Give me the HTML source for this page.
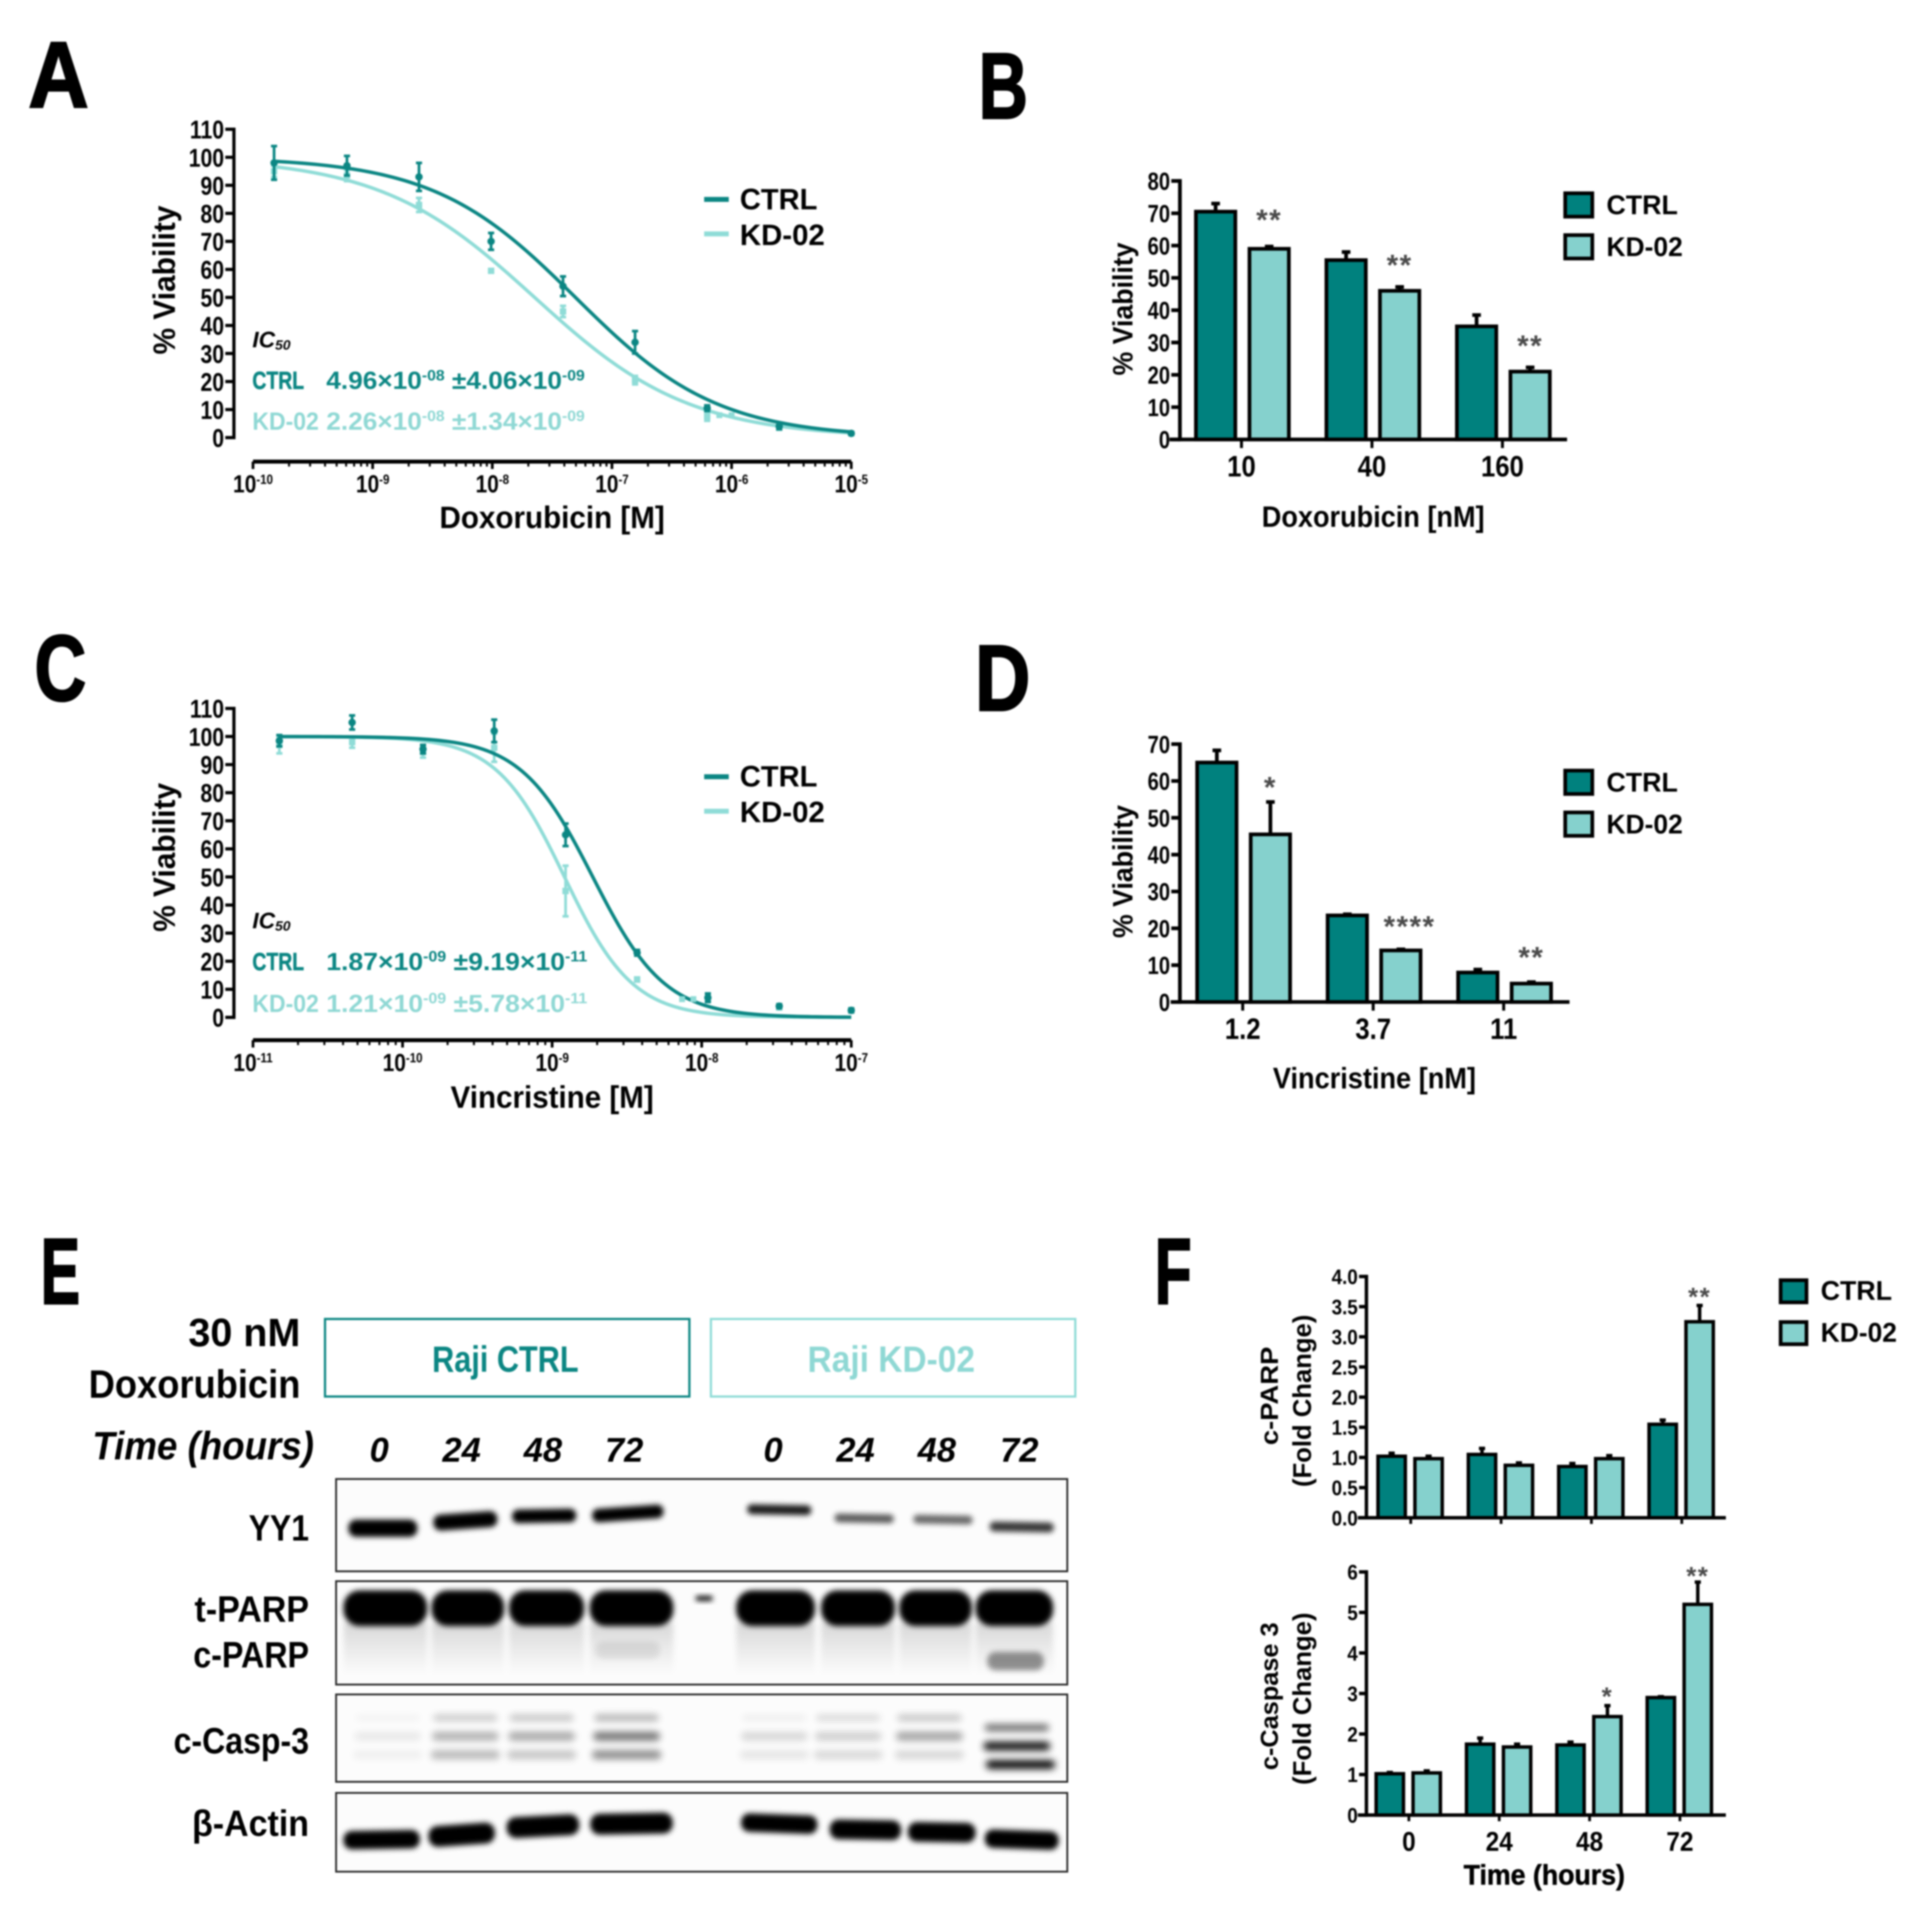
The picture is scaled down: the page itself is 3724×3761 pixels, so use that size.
<!DOCTYPE html>
<html lang="en">
<head>
<meta charset="utf-8">
<title>Doxorubicin and vincristine viability figure</title>
<style>
html,body{margin:0;padding:0;background:#fff;width:3724px;height:3761px;overflow:hidden}
svg{display:block;filter:blur(1.6px)}
text{font-family:"Liberation Sans",sans-serif;font-weight:bold;fill:#000}
.teal{fill:#0b8683}
.mint{fill:#8fd8d4}
.letter{stroke:#000;stroke-width:1.6}
.swA{fill:#00817e;stroke:#000;stroke-width:3}
.swB{fill:#85d1cd;stroke:#000;stroke-width:3}
</style>
</head>
<body>
<svg id="figure" xmlns="http://www.w3.org/2000/svg" width="3724" height="3761" viewBox="0 0 1554 1569.5">
<defs>
<filter id="bandBlur" x="-30%" y="-80%" width="160%" height="260%"><feGaussianBlur stdDeviation="2.2"/></filter>
<filter id="softBlur" x="-30%" y="-150%" width="160%" height="400%"><feGaussianBlur stdDeviation="3"/></filter>
<linearGradient id="smear" x1="0" y1="0" x2="0" y2="1"><stop offset="0" stop-color="#000" stop-opacity=".14"/><stop offset="1" stop-color="#000" stop-opacity="0"/></linearGradient>
</defs>
<rect width="1554" height="1569.5" fill="#fff"/>

<!-- panel letters -->
<text class="letter" x="23" y="87" font-size="76" textLength="49" lengthAdjust="spacingAndGlyphs">A</text>
<text class="letter" x="795" y="96" font-size="76" textLength="40" lengthAdjust="spacingAndGlyphs">B</text>
<text class="letter" x="28" y="569" font-size="76" textLength="42" lengthAdjust="spacingAndGlyphs">C</text>
<text class="letter" x="792" y="577" font-size="76" textLength="45" lengthAdjust="spacingAndGlyphs">D</text>
<text class="letter" x="33" y="1059" font-size="76" textLength="32" lengthAdjust="spacingAndGlyphs">E</text>
<text class="letter" x="938" y="1059" font-size="76" textLength="30" lengthAdjust="spacingAndGlyphs">F</text>

<!-- panel A static text -->
<g id="panelA">
<text transform="translate(142,288) rotate(-90)" font-size="25" textLength="121" lengthAdjust="spacingAndGlyphs">% Viability</text>
<text x="357" y="429" font-size="25" textLength="183" lengthAdjust="spacingAndGlyphs">Doxorubicin [M]</text>
<g>
<line x1="572" x2="592" y1="162" y2="162" stroke="#0b8683" stroke-width="4"/>
<text x="601" y="170" font-size="24" textLength="63" lengthAdjust="spacingAndGlyphs">CTRL</text>
<line x1="572" x2="592" y1="190" y2="190" stroke="#8fdcd7" stroke-width="4"/>
<text x="601" y="199" font-size="24" textLength="69" lengthAdjust="spacingAndGlyphs">KD-02</text>
</g>
<text x="205" y="282" font-size="18" font-style="italic" font-weight="normal" textLength="31" lengthAdjust="spacingAndGlyphs">IC<tspan font-size="11" dy="2">50</tspan></text>
<text class="teal" x="205" y="316" font-size="20" font-weight="normal" stroke="#0b8683" stroke-width=".4" textLength="42" lengthAdjust="spacingAndGlyphs">CTRL</text>
<text class="teal" x="265" y="316" font-size="20" textLength="210" lengthAdjust="spacingAndGlyphs">4.96×10<tspan font-size="12" dy="-7">-08</tspan><tspan dy="7"> ±4.06×10</tspan><tspan font-size="12" dy="-7">-09</tspan></text>
<text class="mint" x="205" y="349" font-size="20" textLength="54" lengthAdjust="spacingAndGlyphs">KD-02</text>
<text class="mint" x="265" y="349" font-size="20" textLength="210" lengthAdjust="spacingAndGlyphs">2.26×10<tspan font-size="12" dy="-7">-08</tspan><tspan dy="7"> ±1.34×10</tspan><tspan font-size="12" dy="-7">-09</tspan></text>
</g>

<!-- panel C static text -->
<g id="panelC">
<text transform="translate(142,757) rotate(-90)" font-size="25" textLength="121" lengthAdjust="spacingAndGlyphs">% Viability</text>
<text x="366" y="900" font-size="25" textLength="165" lengthAdjust="spacingAndGlyphs">Vincristine [M]</text>
<g>
<line x1="572" x2="592" y1="631" y2="631" stroke="#0b8683" stroke-width="4"/>
<text x="601" y="639" font-size="24" textLength="63" lengthAdjust="spacingAndGlyphs">CTRL</text>
<line x1="572" x2="592" y1="659" y2="659" stroke="#8fdcd7" stroke-width="4"/>
<text x="601" y="668" font-size="24" textLength="69" lengthAdjust="spacingAndGlyphs">KD-02</text>
</g>
<text x="205" y="754" font-size="18" font-style="italic" font-weight="normal" textLength="31" lengthAdjust="spacingAndGlyphs">IC<tspan font-size="11" dy="2">50</tspan></text>
<text class="teal" x="205" y="788" font-size="20" font-weight="normal" stroke="#0b8683" stroke-width=".4" textLength="42" lengthAdjust="spacingAndGlyphs">CTRL</text>
<text class="teal" x="265" y="788" font-size="20" textLength="212" lengthAdjust="spacingAndGlyphs">1.87×10<tspan font-size="12" dy="-7">-09</tspan><tspan dy="7"> ±9.19×10</tspan><tspan font-size="12" dy="-7">-11</tspan></text>
<text class="mint" x="205" y="822" font-size="20" textLength="54" lengthAdjust="spacingAndGlyphs">KD-02</text>
<text class="mint" x="265" y="822" font-size="20" textLength="212" lengthAdjust="spacingAndGlyphs">1.21×10<tspan font-size="12" dy="-7">-09</tspan><tspan dy="7"> ±5.78×10</tspan><tspan font-size="12" dy="-7">-11</tspan></text>
</g>

<!-- panel B static text -->
<g id="panelB">
<text transform="translate(920,305) rotate(-90)" font-size="23" textLength="108" lengthAdjust="spacingAndGlyphs">% Viability</text>
<text x="1025" y="428" font-size="24" textLength="181" lengthAdjust="spacingAndGlyphs">Doxorubicin [nM]</text>
<g>
<rect class="swA" x="1271.5" y="157" width="22" height="19"/>
<text x="1305" y="174" font-size="22" textLength="58" lengthAdjust="spacingAndGlyphs">CTRL</text>
<rect class="swB" x="1271.5" y="191" width="22" height="19"/>
<text x="1305" y="208" font-size="22" textLength="62" lengthAdjust="spacingAndGlyphs">KD-02</text>
</g>
</g>

<!-- panel D static text -->
<g id="panelD">
<text transform="translate(920,762) rotate(-90)" font-size="23" textLength="108" lengthAdjust="spacingAndGlyphs">% Viability</text>
<text x="1034" y="884" font-size="24" textLength="165" lengthAdjust="spacingAndGlyphs">Vincristine [nM]</text>
<g>
<rect class="swA" x="1271.5" y="626" width="22" height="19"/>
<text x="1305" y="643" font-size="22" textLength="58" lengthAdjust="spacingAndGlyphs">CTRL</text>
<rect class="swB" x="1271.5" y="660" width="22" height="19"/>
<text x="1305" y="677" font-size="22" textLength="62" lengthAdjust="spacingAndGlyphs">KD-02</text>
</g>
</g>

<!-- panel F static text -->
<g id="panelF" transform="translate(0,1)">
<text transform="translate(1038,1173) rotate(-90)" font-size="20" textLength="80" lengthAdjust="spacingAndGlyphs">c-PARP</text>
<text transform="translate(1065,1207) rotate(-90)" font-size="21" textLength="140" lengthAdjust="spacingAndGlyphs">(Fold Change)</text>
<text transform="translate(1038,1437) rotate(-90)" font-size="20" textLength="120" lengthAdjust="spacingAndGlyphs">c-Caspase 3</text>
<text transform="translate(1065,1449) rotate(-90)" font-size="21" textLength="140" lengthAdjust="spacingAndGlyphs">(Fold Change)</text>
<text x="1189" y="1530" font-size="23" font-weight="normal" stroke="#000" stroke-width=".4" textLength="131" lengthAdjust="spacingAndGlyphs">Time (hours)</text>
<g>
<rect class="swA" x="1446.5" y="1039" width="21" height="18"/>
<text x="1479" y="1055" font-size="22" textLength="58" lengthAdjust="spacingAndGlyphs">CTRL</text>
<rect class="swB" x="1446.5" y="1073" width="21" height="18"/>
<text x="1479" y="1089" font-size="22" textLength="62" lengthAdjust="spacingAndGlyphs">KD-02</text>
</g>
</g>

<!-- panel E static parts -->
<g id="panelE" transform="translate(0,1.5)">
<text x="153" y="1092" font-size="32" textLength="91" lengthAdjust="spacingAndGlyphs">30 nM</text>
<text x="72" y="1134" font-size="32" textLength="172" lengthAdjust="spacingAndGlyphs">Doxorubicin</text>
<rect x="264" y="1070" width="296" height="63" fill="#fff" stroke="#0b8683" stroke-width="1.8"/>
<text class="teal" x="351" y="1113" font-size="30" textLength="119" lengthAdjust="spacingAndGlyphs">Raji CTRL</text>
<rect x="577.5" y="1070" width="296" height="63" fill="#fff" stroke="#8fdcd7" stroke-width="1.8"/>
<text class="mint" x="656" y="1113" font-size="30" textLength="136" lengthAdjust="spacingAndGlyphs">Raji KD-02</text>
<text x="75" y="1184" font-size="32" font-style="italic" textLength="180" lengthAdjust="spacingAndGlyphs">Time (hours)</text>
<text x="251" y="1250" font-size="30" text-anchor="end" textLength="49" lengthAdjust="spacingAndGlyphs">YY1</text>
<text x="251" y="1316" font-size="30" text-anchor="end" textLength="93" lengthAdjust="spacingAndGlyphs">t-PARP</text>
<text x="251" y="1353" font-size="30" text-anchor="end" textLength="94" lengthAdjust="spacingAndGlyphs">c-PARP</text>
<text x="251" y="1423" font-size="30" text-anchor="end" textLength="110" lengthAdjust="spacingAndGlyphs">c-Casp-3</text>
<text x="251" y="1490" font-size="30" text-anchor="end" textLength="95" lengthAdjust="spacingAndGlyphs">β-Actin</text>
</g>
<script>
// ---------- Panel A data (Doxorubicin dose-response) ----------
const aDoses = [1.5e-10, 6.1e-10, 2.44e-9, 9.77e-9, 3.9e-8, 1.56e-7, 6.25e-7, 2.5e-6, 1e-5];
const aCtrl = [98, 97, 93, 70, 54, 34, 10.5, 4, 1.5];
const aCtrlErr = [6, 3.5, 5, 3, 3.5, 4, 1, 1, 0.4];
const aKd = [95, 93.5, 83, 59.5, 45, 20.5, 7.5, 3.5, 1.5];
const aKdErr = [2, 2, 2.5, 0.5, 2, 1.5, 1.5, 0.7, 0.4];
const aFitIc50 = [4.96e-8, 2.26e-8];
const aFitHill = [0.73, 0.67];
const aExtraDoses = [7.9e-7, 1e-6];
const aExtraKd = [8, 8];
const aXDecades = [-10, -9, -8, -7, -6, -5];
const viabilityTicks = [0, 10, 20, 30, 40, 50, 60, 70, 80, 90, 100, 110];

// ---------- Panel C data (Vincristine dose-response) ----------
const cDoses = [1.5e-11, 4.6e-11, 1.37e-10, 4.1e-10, 1.23e-9, 3.7e-9, 1.1e-8, 3.3e-8, 1e-7];
const cCtrl = [98.5, 105, 95.5, 102, 65, 23, 7, 4, 2.5];
const cCtrlErr = [2, 2.5, 1.5, 4, 4, 1, 1.5, 0.7, 0.7];
const cKd = [97, 98, 94.5, 96, 45, 13.5, 6.5, 3.5, 2.5];
const cKdErr = [3, 2, 2, 5, 9, 0.7, 1, 0.5, 0.5];
const cFitIc50 = [1.87e-9, 1.21e-9];
const cFitHill = [1.8, 1.9];
const cExtraDoses = [7.4e-9, 8.8e-9];
const cExtraKd = [6.5, 6.5];
const cXDecades = [-11, -10, -9, -8, -7];

// ---------- Panel B data ----------
const bCategories = ['10', '40', '160'];
const bCtrl = [70.5, 55.5, 35];
const bCtrlErr = [2.5, 2.5, 3.5];
const bKd = [59, 46, 21];
const bKdErr = [0.7, 1.2, 1.3];
const bStars = ['**', '**', '**'];
const bStarLevels = [69, 55, 30];
const bTicks = [0, 10, 20, 30, 40, 50, 60, 70, 80];

// ---------- Panel D data ----------
const dCategories = ['1.2', '3.7', '11'];
const dCtrl = [65, 23.5, 8];
const dCtrlErr = [3.3, 0.3, 0.8];
const dKd = [45.5, 14, 5];
const dKdErr = [8.8, 0.3, 0.4];
const dStars = ['*', '****', '**'];
const dStarLevels = [59.2, 21.4, 13];
const dTicks = [0, 10, 20, 30, 40, 50, 60, 70];

// ---------- Panel F data ----------
const fCategories = ['0', '24', '48', '72'];
const fParpCtrl = [1.02, 1.05, 0.85, 1.55];
const fParpCtrlErr = [0.05, 0.1, 0.05, 0.07];
const fParpKd = [0.98, 0.87, 0.98, 3.25];
const fParpKdErr = [0.04, 0.04, 0.05, 0.27];
const fParpStars = ['', '', '', '**'];
const fParpStarLevels = [0, 0, 0, 3.71];
const fParpTicks = ['0.0', '0.5', '1.0', '1.5', '2.0', '2.5', '3.0', '3.5', '4.0'];
const fCaspCtrl = [1.02, 1.75, 1.73, 2.9];
const fCaspCtrlErr = [0.03, 0.15, 0.07, 0.02];
const fCaspKd = [1.04, 1.68, 2.43, 5.2];
const fCaspKdErr = [0.05, 0.07, 0.27, 0.55];
const fCaspStars = ['', '', '*', '**'];
const fCaspStarLevels = [0, 0, 3, 5.97];
const fCaspTicks = ['0', '1', '2', '3', '4', '5', '6'];

// ---------- Panel E labels ----------
const eTimes = ['0', '24', '48', '72', '0', '24', '48', '72'];
const eBlotNames = ['yy1', 't-parp', 'c-casp-3', 'beta-actin'];
const eYy1Darkness = [1, 1, 1, 1, 0.9, 0.65, 0.6, 0.78];
const eActinDarkness = [1, 1, 1, 1, 1, 1, 1, 1];
const eCaspTop = [0.04, 0.22, 0.24, 0.32, 0.06, 0.15, 0.24, 0.65];
const eCaspMid = [0.08, 0.3, 0.34, 0.55, 0.15, 0.18, 0.36, 0.95];
const eCaspLow = [0.05, 0.27, 0.22, 0.45, 0.09, 0.14, 0.15, 1];

const svgNS = 'http://www.w3.org/2000/svg';
const TEAL_LINE = '#0b8683', MINT_LINE = '#8fdcd7';
const TEAL_FILL = '#00817e', MINT_FILL = '#85d1cd';

function mk(parent, tag, attrs) {
  const el = document.createElementNS(svgNS, tag);
  for (const k in attrs) el.setAttribute(k, attrs[k]);
  parent.appendChild(el);
  return el;
}
function label(parent, name, str, x, y, size, sx, anchor) {
  const t = mk(parent, 'text', {
    transform: 'translate(' + x + ',' + y + ') scale(' + sx + ',1)',
    'font-size': size,
    'text-anchor': anchor
  });
  
  
  t.textContent = str;
  return t;
}
function scaleLinear(d0, d1, r0, r1) { return v => r0 + (v - d0) * (r1 - r0) / (d1 - d0); }

function yAxis(parent, ticks, sy, x, tickLen, size, sx, width) {
  const axis = mk(parent, 'line', { x1: x, x2: x, y1: sy(+ticks[0]) + width / 2, y2: sy(+ticks[ticks.length - 1]) - width / 2, stroke: '#000', 'stroke-width': width });
  
  
  ticks.forEach(v => {
    const y = sy(+v);
    const tick = mk(parent, 'line', { x1: x - tickLen, x2: x, y1: y, y2: y, stroke: '#000', 'stroke-width': width });
    
    
    label(parent, 'y-tick-label', String(v), x - tickLen - 1, y + size * 0.36, size, sx, 'end');
  });
}

function dosePanel(parentId, o) {
  const g = document.getElementById(parentId);
  const sy = scaleLinear(0, 110, o.y0, o.y110);
  const lo = o.decades[0], hi = o.decades[o.decades.length - 1];
  const lx = scaleLinear(lo, hi, o.xL, o.xR);
  const sx = v => lx(Math.log10(v));
  yAxis(g, viabilityTicks, sy, o.axisX, 7, 21, 0.82, 2.6);

  const xAxis = mk(g, 'line', { x1: o.xL, x2: o.xR, y1: o.axisY, y2: o.axisY, stroke: '#000', 'stroke-width': 3.2 });
  
  
  o.decades.forEach((d, i) => {
    const X = lx(d);
    const maj = mk(g, 'line', { x1: X, x2: X, y1: o.axisY, y2: o.axisY + 6, stroke: '#000', 'stroke-width': 2.2 });
    
    
    if (i < o.decades.length - 1) {
      for (let m = 2; m < 10; m++) {
        const xm = lx(d + Math.log10(m));
        const mi = mk(g, 'line', { x1: xm, x2: xm, y1: o.axisY, y2: o.axisY + 4, stroke: '#000', 'stroke-width': 1.6 });
        
        
      }
    }
    const t = mk(g, 'text', { transform: 'translate(' + X + ',' + (o.axisY + 25) + ') scale(.85,1)', 'font-size': 20, 'text-anchor': 'middle' });
    
    
    const base = mk(t, 'tspan', {});
    base.textContent = '10';
    const exp = mk(t, 'tspan', { dy: -7, 'font-size': 11 });
    exp.textContent = String(d);
  });

  function series(name, color, doses, vals, errs, ic50, hill, shape) {
    const sg = mk(g, 'g', {});
    
    
    let d = '';
    const start = Math.log10(doses[0]), end = Math.log10(doses[doses.length - 1]);
    for (let i = 0; i <= 160; i++) {
      const lg = start + (end - start) * i / 160;
      const r = Math.pow(Math.pow(10, lg) / ic50, hill);
      const v = 100 / (1 + r);
      d += (i ? 'L' : 'M') + lx(lg).toFixed(2) + ' ' + sy(v).toFixed(2);
    }
    const curve = mk(sg, 'path', { d: d, fill: 'none', stroke: color, 'stroke-width': 2.8 });
    
    
    doses.forEach((c, i) => {
      const X = sx(c), Y = sy(vals[i]), yT = sy(vals[i] + errs[i]), yB = sy(vals[i] - errs[i]);
      const eb = mk(sg, 'path', { d: 'M' + X + ' ' + yB + 'V' + yT + 'M' + (X - 2.5) + ' ' + yT + 'H' + (X + 2.5) + 'M' + (X - 2.5) + ' ' + yB + 'H' + (X + 2.5), fill: 'none', stroke: color, 'stroke-width': 2.2 });
      
      
      const pt = shape === 'circle'
        ? mk(sg, 'circle', { cx: X, cy: Y, r: 3, fill: color })
        : mk(sg, 'rect', { x: X - 2.6, y: Y - 2.6, width: 5.2, height: 5.2, fill: color });
      
      
    });
  }
  series('series-kd02', MINT_LINE, o.doses, o.kd, o.kdErr, o.ic50[1], o.hill[1], 'square');
  series('series-ctrl', TEAL_LINE, o.doses, o.ctrl, o.ctrlErr, o.ic50[0], o.hill[0], 'circle');
  o.extraDoses.forEach((c, i) => {
    const p = mk(g, 'rect', { x: sx(c) - 2.4, y: sy(o.extraKd[i]) - 2.4, width: 4.8, height: 4.8, fill: MINT_LINE });
    
    
  });
}

function barChart(parent, o) {
  const sy = scaleLinear(+o.ticks[0], +o.ticks[o.ticks.length - 1], o.y0, o.yTop);
  yAxis(parent, o.ticks, sy, o.axisX, o.tickLen, o.tickSize, o.tickSx, o.lw);
  o.cats.forEach((cat, i) => {
    const left = o.first + i * o.groupStep;
    [[o.ctrl, o.ctrlErr, TEAL_FILL, 'bar-ctrl', 0], [o.kd, o.kdErr, MINT_FILL, 'bar-kd02', o.barStep]].forEach(s => {
      const X = left + s[4];
      const v = s[0][i], e = s[1][i];
      const yV = sy(v), yE = sy(v + e), cx = X + o.barW / 2;
      const err = mk(parent, 'path', { d: 'M' + cx + ' ' + yV + 'V' + yE + 'M' + (cx - o.cap) + ' ' + yE + 'H' + (cx + o.cap), fill: 'none', stroke: '#000', 'stroke-width': o.lw });
      
      
      const bar = mk(parent, 'rect', { x: X + o.lw / 2, y: yV, width: o.barW - o.lw, height: o.y0 - yV, fill: s[2], stroke: '#000', 'stroke-width': o.lw });
      
      
    });
    const star = o.stars[i];
    if (star) {
      const cxStar = left + o.barStep + o.barW / 2 + (star.length > 2 ? o.wideShift : 0);
      const yStar = sy(o.starLevels[i]) + o.starSize * 0.45;
      const st = mk(parent, 'text', { x: cxStar, y: yStar, 'font-size': o.starSize, 'text-anchor': 'middle', style: 'fill:#4a4a4a;letter-spacing:1.2px' });
      
      
      st.textContent = star;
    }
    const tx = left + o.tickShift;
    const tk = mk(parent, 'line', { x1: tx, x2: tx, y1: o.y0, y2: o.y0 + o.xTick, stroke: '#000', 'stroke-width': o.lw * 0.8 });
    
    
    if (o.showLabels) label(parent, 'x-tick-label', cat, tx, o.y0 + o.labelDy, o.labelSize, o.labelSx, 'middle');
  });
  const base = mk(parent, 'line', { x1: o.xL, x2: o.xR, y1: o.y0, y2: o.y0, stroke: '#000', 'stroke-width': o.lw });
  
  
}

dosePanel('panelA', { y0: 355.5, y110: 105, axisX: 190, axisY: 375, xL: 205.5, xR: 691.5, decades: aXDecades, doses: aDoses, ctrl: aCtrl, ctrlErr: aCtrlErr, kd: aKd, kdErr: aKdErr, ic50: aFitIc50, hill: aFitHill, extraDoses: aExtraDoses, extraKd: aExtraKd });
dosePanel('panelC', { y0: 826.5, y110: 575.5, axisX: 190, axisY: 845, xL: 205.5, xR: 691.5, decades: cXDecades, doses: cDoses, ctrl: cCtrl, ctrlErr: cCtrlErr, kd: cKd, kdErr: cKdErr, ic50: cFitIc50, hill: cFitHill, extraDoses: cExtraDoses, extraKd: cExtraKd });

const commonVia = { axisX: 958.5, tickLen: 7, tickSize: 20, tickSx: 0.82, lw: 3, first: 970, groupStep: 106, barW: 35, barStep: 43.5, cap: 3.5, starSize: 24, wideShift: 7, tickShift: 38.5, xTick: 7, xL: 950, xR: 1273, showLabels: true, labelSize: 24, labelSx: 0.87 };
barChart(document.getElementById('panelB'), Object.assign({}, commonVia, { ticks: bTicks, y0: 357, yTop: 147, cats: bCategories, ctrl: bCtrl, ctrlErr: bCtrlErr, kd: bKd, kdErr: bKdErr, stars: bStars, starLevels: bStarLevels, labelDy: 30 }));
barChart(document.getElementById('panelD'), Object.assign({}, commonVia, { ticks: dTicks, y0: 814, yTop: 604.5, first: 971, xL: 951, xR: 1275, cats: dCategories, ctrl: dCtrl, ctrlErr: dCtrlErr, kd: dKd, kdErr: dKdErr, stars: dStars, starLevels: dStarLevels, labelDy: 30 }));

const commonF = { axisX: 1110, tickLen: 6, tickSize: 17, tickSx: 0.9, lw: 2.8, first: 1118, groupStep: 73.4, barW: 25, barStep: 30, cap: 2.5, starSize: 21, wideShift: 0, tickShift: 28, xTick: 5, xL: 1103, xR: 1402, labelSize: 22, labelSx: 0.9 };
barChart(document.getElementById('panelF'), Object.assign({}, commonF, { ticks: fParpTicks, y0: 1232, yTop: 1036, cats: fCategories, ctrl: fParpCtrl, ctrlErr: fParpCtrlErr, kd: fParpKd, kdErr: fParpKdErr, stars: fParpStars, starLevels: fParpStarLevels, showLabels: false, labelDy: 0 }));
barChart(document.getElementById('panelF'), Object.assign({}, commonF, { ticks: fCaspTicks, first: 1116.5, y0: 1473.5, yTop: 1276, cats: fCategories, ctrl: fCaspCtrl, ctrlErr: fCaspCtrlErr, kd: fCaspKd, kdErr: fCaspKdErr, stars: fCaspStars, starLevels: fCaspStarLevels, showLabels: true, labelDy: 29 }));

// ---------- Western blot ----------
const panelE = document.getElementById('panelE');
const laneCentres = [308, 375, 441, 507, 628, 695, 761, 828];
eTimes.forEach((t, i) => {
  const lb = mk(panelE, 'text', { x: laneCentres[i], y: 1186, 'font-size': 28, 'font-style': 'italic', 'text-anchor': 'middle' });
  
  
  lb.textContent = t;
});
const strips = [[1200, 75], [1283, 84], [1375, 71], [1455, 64]];
const stripGroups = strips.map((s, i) => {
  const sg = mk(panelE, 'g', {});
  
  
  const bg = mk(sg, 'rect', { x: 273, y: s[0], width: 594, height: s[1], fill: '#fcfcfc' });
  
  
  return sg;
});
function band(strip, cx, cy, w, h, dark, rot, blurId) {
  const b = mk(strip, 'rect', { x: cx - w / 2, y: cy - h / 2, width: w, height: h, rx: h / 2.2, fill: '#000', opacity: dark, filter: 'url(#' + (blurId || 'bandBlur') + ')', transform: 'rotate(' + (rot || 0) + ' ' + cx + ' ' + cy + ')' });
  
  
}
const yy1X = [311, 378, 442, 510, 633, 702, 766, 830], yy1Y = [1240, 1234, 1230, 1228, 1225, 1232, 1233, 1239], yy1W = [56, 52, 52, 58, 52, 48, 48, 52], yy1H = [14, 13, 11, 11, 8, 7, 7, 8], yy1R = [0, -4, -1, -4, 1, 1, 1, 1];
yy1X.forEach((x, i) => band(stripGroups[0], x, yy1Y[i], yy1W[i], yy1H[i], eYy1Darkness[i], yy1R[i]));
const tpX = [313, 380, 444, 513, 630, 697, 760, 824], tpW = [68, 59, 61, 68, 64, 60, 59, 63];
tpX.forEach((x, i) => {
  const sm = mk(stripGroups[1], 'rect', { x: x - tpW[i] / 2, y: 1317, width: tpW[i], height: 42, fill: 'url(#smear)', filter: 'url(#bandBlur)' });
  
  
  band(stripGroups[1], x, 1305, tpW[i], 29, 1);
});
band(stripGroups[1], 572, 1297, 14, 4, 1);
band(stripGroups[1], 510, 1339, 52, 14, 0.08);
band(stripGroups[1], 825, 1348, 46, 15, 0.42);
const cx3 = [315, 378, 440, 509, 629, 689, 755, 826];
const caspShift = [0, 0, 0, 0, 0, 0, 0, 8];
cx3.forEach((x, i) => {
  band(stripGroups[2], x, 1394 + caspShift[i], 52, 5, eCaspTop[i], 0, 'softBlur');
  band(stripGroups[2], x, 1409 + caspShift[i], 54, 7, eCaspMid[i], 0, 'softBlur');
  band(stripGroups[2], x + (i === 7 ? 3 : 0), 1424 + caspShift[i], 56, 7, eCaspLow[i], 0, 'softBlur');
});
const actX = [310, 375, 441, 513, 633, 703, 765, 830], actY = [1493, 1489, 1482, 1480, 1480, 1485, 1487, 1493], actW = [62, 54, 59, 67, 62, 58, 55, 60], actH = [15, 17, 17, 17, 15, 16, 16, 15], actR = [-1, -4, -3, -1, 2, 1, 1, 2];
actX.forEach((x, i) => band(stripGroups[3], x, actY[i], actW[i], actH[i], eActinDarkness[i], actR[i]));
strips.forEach((s, i) => {
  const fr = mk(stripGroups[i], 'rect', { x: 273, y: s[0], width: 594, height: s[1], fill: 'none', stroke: '#2a2a2a', 'stroke-width': 1.5 });
  
  
});
</script>
</svg>
</body>
</html>
